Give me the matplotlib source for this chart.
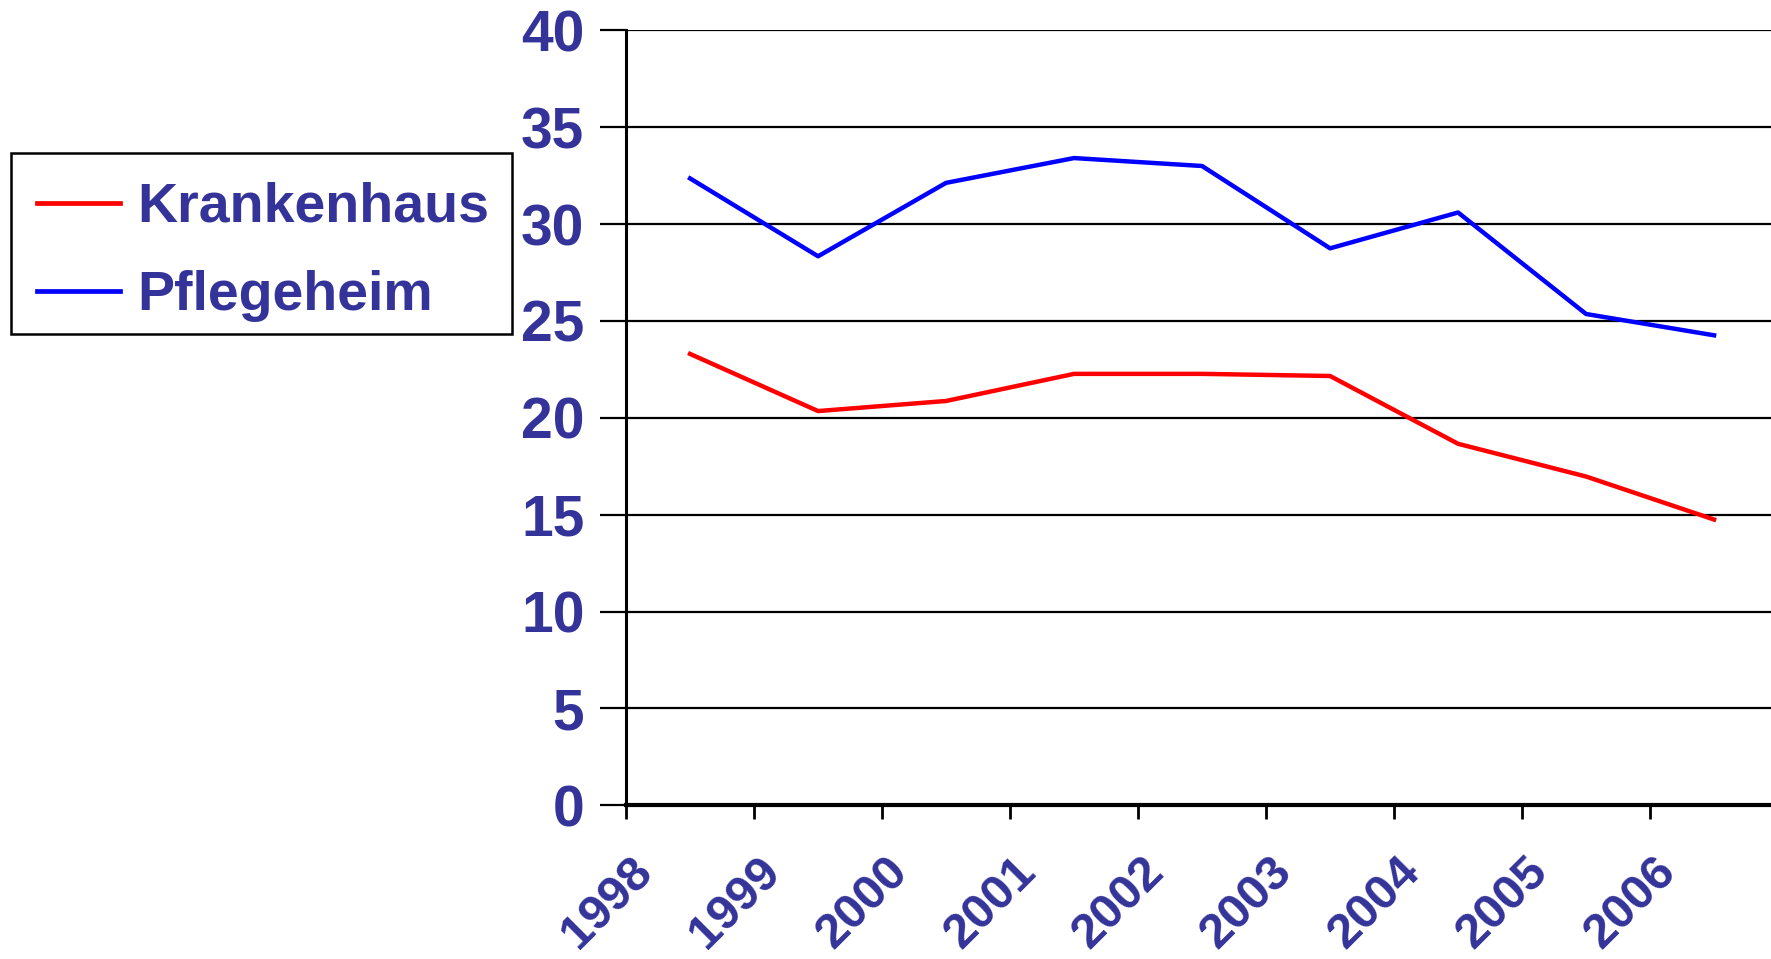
import matplotlib
matplotlib.use("Agg")
import matplotlib.pyplot as plt
import matplotlib.transforms as mtransforms
from matplotlib.patches import Rectangle

years = ["1998", "1999", "2000", "2001", "2002", "2003", "2004", "2005", "2006"]
krankenhaus = [23.3, 20.35, 20.87, 22.27, 22.27, 22.16, 18.66, 16.97, 14.75]
pflegeheim = [32.36, 28.34, 32.13, 33.41, 33.0, 28.75, 30.6, 25.36, 24.26]
yticks = [0, 5, 10, 15, 20, 25, 30, 35, 40]

txt_color = "#333399"
plt.rcParams['font.family'] = ['Liberation Sans', 'DejaVu Sans']
plt.rcParams['font.weight'] = 'bold'

W, H = 1771, 959
fig = plt.figure(figsize=(W / 100, H / 100), dpi=100)
ax = fig.add_axes([0.3535, 0.1603, 0.6505, 0.808])

xpos = [i + 0.5 for i in range(len(years))]
l1, = ax.plot(xpos, krankenhaus, color="#FF0000", lw=3.2, label="Krankenhaus")
l2, = ax.plot(xpos, pflegeheim, color="#0000FF", lw=3.2, label="Pflegeheim")

ax.set_xlim(0, 9)
ax.set_ylim(0, 40)
ax.set_yticks(yticks)
ax.set_yticklabels([str(v) for v in yticks], fontsize=41, color=txt_color, fontweight='bold')
ax.yaxis.grid(True, color='black', lw=1.6)
ax.set_axisbelow(True)
ax.tick_params(axis='y', length=19, width=1.6, direction='out', pad=11)
ax.tick_params(axis='x', length=10, width=2, direction='out')

ax.set_xticks(range(len(years)))
ax.set_xticklabels(years, fontsize=35, color=txt_color, fontweight='bold',
                   rotation=45, ha='right', va='top', rotation_mode='anchor')
offset = mtransforms.ScaledTranslation(3 / 100, -25 / 100, fig.dpi_scale_trans)
for lab in ax.get_xticklabels():
    lab.set_transform(lab.get_transform() + offset)

for s in ['top', 'right']:
    ax.spines[s].set_visible(False)
ax.spines['left'].set_linewidth(2.2)
ax.spines['bottom'].set_linewidth(3)

# legend frame drawn separately
fig.patches.append(Rectangle((11 / W, 1 - 334 / H), (512 - 11) / W, (334 - 152.5) / H,
                             transform=fig.transFigure, fill=True, facecolor='white',
                             edgecolor='black', lw=1.8, zorder=0))
leg = fig.legend(handles=[l1, l2], loc='upper left',
                 bbox_to_anchor=(37 / W, 1 - 182 / H),
                 bbox_transform=fig.transFigure,
                 prop={'size': 40, 'weight': 'bold', 'family': 'Liberation Sans'},
                 frameon=False,
                 handlelength=1.5, handletextpad=0.3, labelspacing=0.65,
                 borderpad=0, borderaxespad=0)
for t in leg.get_texts():
    t.set_color(txt_color)
for h in leg.legend_handles:
    h.set_linewidth(3.4)

fig.savefig("out.png", dpi=100)
